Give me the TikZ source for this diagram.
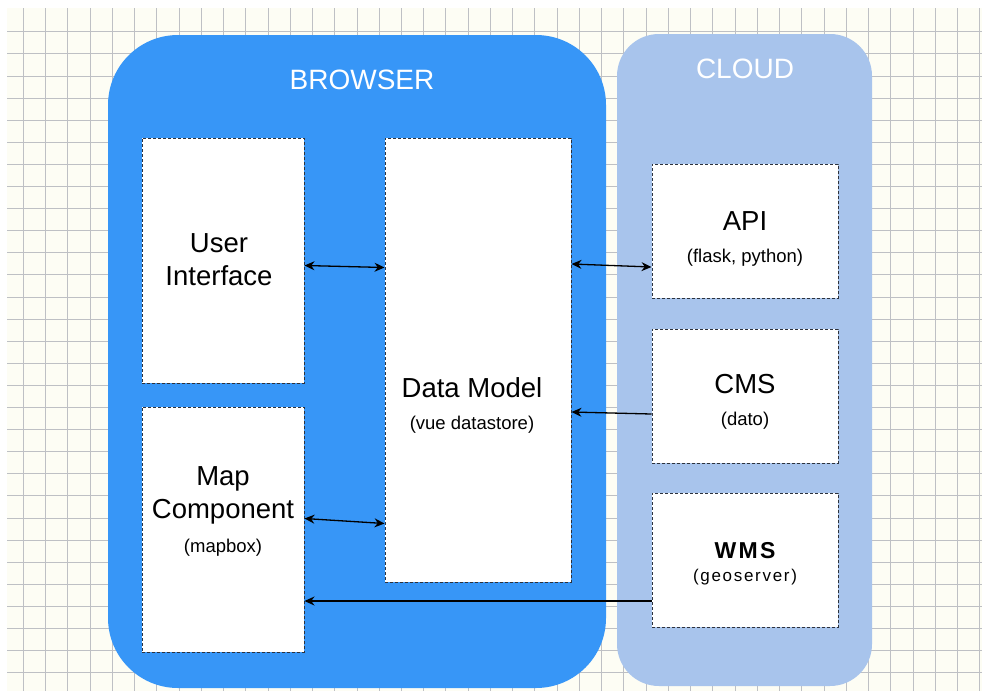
\documentclass[tikz,border=0pt]{standalone}
\usepackage{fontspec}
\setmainfont{Liberation Sans}
\newfontfamily\wmsfont[LetterSpace=10]{Liberation Sans}
\usetikzlibrary{arrows.meta}

\definecolor{paper}{RGB}{253,253,244}
\definecolor{gridgray}{RGB}{190,192,196}
\definecolor{browserblue}{RGB}{55,150,247}
\definecolor{cloudblue}{RGB}{168,196,236}
\definecolor{dashgray}{RGB}{45,50,60}

\tikzset{
    gridline/.style={draw=gridgray, line width=0.8pt},
    zone/.style={inner sep=0pt, outer sep=0pt},
    part/.style={draw=dashgray, densely dashed, line width=1pt,
        fill=white, inner sep=0pt},
    zonetitle/.style={text=white, font=\fontsize{28}{30}\selectfont},
    partname/.style={align=center, font=\fontsize{27.5}{33}\selectfont},
    partnote/.style={font=\fontsize{18.5}{20}\selectfont},
    link/.style={line width=1.3pt,
        {Stealth[length=10pt,width=9pt]}-{Stealth[length=10pt,width=9pt]}},
    feed/.style={line width=1.3pt, -{Stealth[length=10pt,width=9pt]}}
}

\begin{document}
\begin{tikzpicture}[x=1pt,y=-1pt]

    \useasboundingbox (0,0) rectangle (982,691);

    % Grid paper
    \fill[paper] (7,8) rectangle (982,691);
    \foreach \i in {0,...,43}
        \draw[gridline] ({23.3+22.24*\i},8) -- ({23.3+22.24*\i},691);
    \foreach \j in {0,...,29}
        \draw[gridline] (7,{31.7+22.1*\j}) -- (982,{31.7+22.1*\j});

    % Browser zone
    \node[zone,
        fill=browserblue,
        rounded corners=70pt,
        minimum width=498pt,
        minimum height=653pt] (browser) at (357,361.5){};

    % Cloud zone
    \node[zone,
        fill=cloudblue,
        rounded corners=42pt,
        minimum width=255pt,
        minimum height=652pt] (cloud) at (744.5,360){};

    \node[zonetitle] (browser_lbl) at (362,80) {BROWSER};
    \node[zonetitle] (cloud_lbl) at (745,69) {CLOUD};

    % Browser parts
    \node[part,
        minimum width=162pt,
        minimum height=245pt] (ui) at (223,260.5){};

    \node[part,
        minimum width=162pt,
        minimum height=245pt] (map) at (223,529.5){};

    \node[part,
        minimum width=186pt,
        minimum height=444pt] (dm) at (478,360){};

    % Cloud parts
    \node[part,
        minimum width=186pt,
        minimum height=134pt] (api) at (745,231){};

    \node[part,
        minimum width=186pt,
        minimum height=134pt] (cms) at (745,396){};

    \node[part,
        minimum width=186pt,
        minimum height=134pt] (wms) at (745,560){};

    % Labels
    \node[partname] (ui_lbl) at (219,259.5) {User\\Interface};
    \node[partname] (map_lbl) at (223,495) {Map\\Component};
    \node[partnote] (map_note) at (223,548) {(mapbox)};
    \node[partname] (dm_lbl) at (472,388) {Data Model};
    \node[partnote] (dm_note) at (472,425) {(vue datastore)};
    \node[partname] (api_lbl) at (745,221) {API};
    \node[partnote] (api_note) at (745,258) {(flask, python)};
    \node[partname] (cms_lbl) at (745,384) {CMS};
    \node[partnote] (cms_note) at (745,421) {(dato)};
    \node[font=\wmsfont\bfseries\fontsize{23}{26}\selectfont] (wms_lbl) at (745,551) {WMS};
    \node[font=\wmsfont\fontsize{17}{20}\selectfont] (wms_note) at (745,577) {(geoserver)};

    % Connectors
    \draw[link] ([yshift=-5pt]ui.east) -- ([yshift=-7pt]ui.east -| dm.west);
    \draw[link] ([yshift=11pt]map.east) -- ([yshift=6pt]map.east -| dm.west);
    \draw[link] ([yshift=-33pt]api.west -| dm.east) -- ([yshift=-36pt]api.west);
    \draw[feed] ([yshift=-18pt]cms.west) -- ([yshift=-16pt]cms.west -| dm.east);
    \draw[feed] ([yshift=-41pt]wms.west) -- ([yshift=-41pt]wms.west -| map.east);

\end{tikzpicture}
\end{document}
